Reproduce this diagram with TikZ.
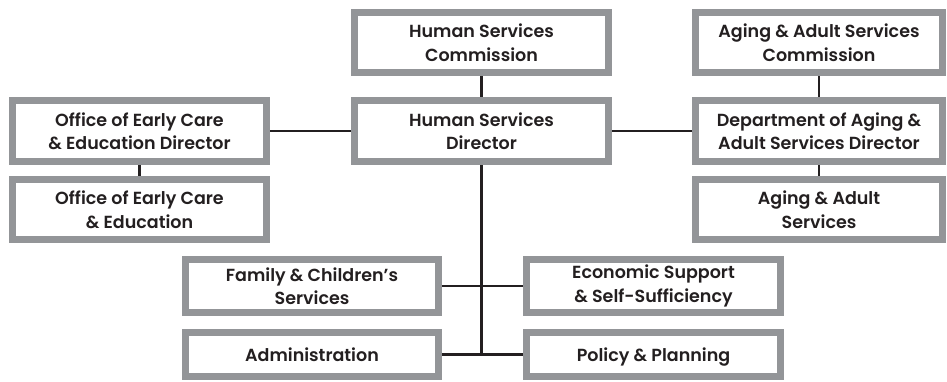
\documentclass[tikz,border=0pt]{standalone}
\usepackage{fontspec}
\setmainfont{Poppins}[BoldFont={Poppins SemiBold}]
\usetikzlibrary{backgrounds}
\definecolor{boxgray}{HTML}{939598}
\definecolor{ink}{HTML}{231F20}
\begin{document}
\begin{tikzpicture}[x=1pt,y=-1pt,
  orgbox/.style={draw=boxgray, line width=7pt, fill=white, inner sep=0pt,
    align=center, text=ink, font=\fontsize{17.5}{23.5}\selectfont\bfseries},
  oneline/.style={text height=13pt, text depth=0pt},
  conn/.style={draw=ink, line width=2.6pt}]
\useasboundingbox (0,0) rectangle (947,381);
\node[orgbox, minimum width=254pt, minimum height=60pt] (hsc) at (481.5,42.5) {Human Services\\Commission};
\node[orgbox, minimum width=254pt, minimum height=61pt] (hsd) at (481.5,131) {Human Services\\Director};
\node[orgbox, minimum width=247pt, minimum height=60pt] (aasc) at (819,42.5) {Aging \& Adult Services\\Commission};
\node[orgbox, minimum width=247pt, minimum height=61pt] (daasd) at (819,131) {Department of Aging \&\\Adult Services Director};
\node[orgbox, minimum width=247pt, minimum height=60pt] (aas) at (819,209.5) {Aging \& Adult\\Services};
\node[orgbox, minimum width=254pt, minimum height=61pt] (oeced) at (139.5,131) {Office of Early Care\\\& Education Director};
\node[orgbox, minimum width=254pt, minimum height=60pt] (oece) at (139.5,209.5) {Office of Early Care\\\& Education};
\node[orgbox, minimum width=253pt, minimum height=53pt] (fcs) at (312,286) {Family \& Children’s\\Services};
\node[orgbox, minimum width=254pt, minimum height=53pt] (ess) at (653.5,286) {Economic Support\\\& Self-Sufficiency};
\node[orgbox, oneline, minimum width=253pt, minimum height=44pt] (adm) at (312,354.5) {Administration};
\node[orgbox, oneline, minimum width=254pt, minimum height=44pt] (pp) at (653.5,354.5) {Policy \& Planning};
\coordinate (hub) at (hsd.south |- adm.east);
\begin{scope}[on background layer]
\draw[conn] (hsc) -- (hsd);
\draw[conn] (hsd) -- (oeced);
\draw[conn] (hsd) -- (daasd);
\draw[conn] (oeced) -- (oece);
\draw[conn] (aasc) -- (daasd);
\draw[conn] (daasd) -- (aas);
\draw[conn] (hsd.south) -- (hub);
\draw[conn] (fcs) -- (ess);
\draw[conn] (adm) -- (pp);
\end{scope}
\end{tikzpicture}
\end{document}
